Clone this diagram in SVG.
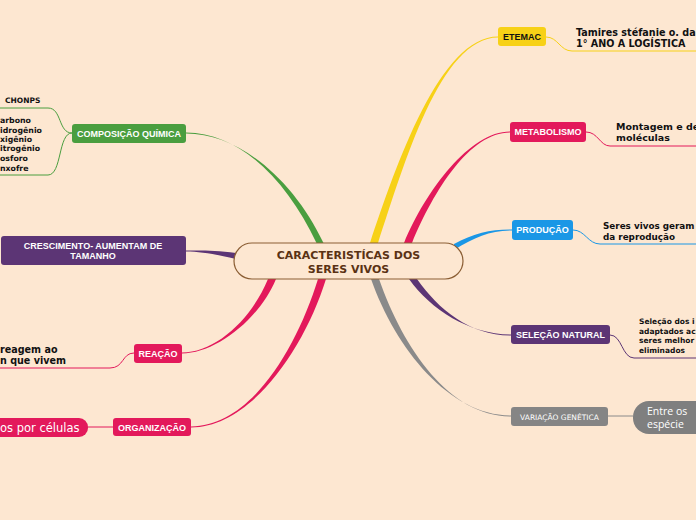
<svg xmlns="http://www.w3.org/2000/svg" width="696" height="520" viewBox="0 0 696 520">
<style>
.lbl{font-family:"Liberation Sans",Arial,sans-serif;font-weight:bold;font-size:9px;fill:#fff;text-anchor:middle}
.txt{font-family:"DejaVu Sans",Verdana,sans-serif;font-weight:bold;fill:#111}
.ul{fill:none;stroke-width:1}
</style>
<rect width="696" height="520" fill="#fde7d1"/>
<g id="connectors">
<path d="M316.5,243 C286.5,180 240,132.5 186,132.5 L186,133.5 C240,133.5 293.5,180 323.5,243 Z" fill="#4a9e3f"/>
<path d="M370,243 C396,165 440,36.5 498,36.5 L498,37.5 C440,37.5 404,165 378,243 Z" fill="#f7d117"/>
<path d="M404,243 C426,190 470,131.5 510,131.5 L510,132.5 C470,132.5 434,190 412,243 Z" fill="#e3195b"/>
<path d="M454,244 C475,233 490,229.5 512,229.5 L512,230.5 C490,230.5 475,237 454,250 Z" fill="#1a97e6"/>
<path d="M236,253 C215,250 200,250.5 186,250.5 L186,251.5 C200,251.5 215,254 236,259 Z" fill="#5c3575"/>
<path d="M268,279 C251,320 215,352.5 182,352.5 L182,353.5 C215,353.5 259,320 276,279 Z" fill="#e3195b"/>
<path d="M318,279 C296,350 250,426.5 191,426.5 L191,427.5 C250,427.5 304,350 326,279 Z" fill="#e3195b"/>
<path d="M409,279 C431,310 470,334.5 511,334.5 L511,335.5 C470,335.5 439,310 417,279 Z" fill="#5c3575"/>
<path d="M371,279 C396,350 450,415.5 511,415.5 L511,416.5 C450,416.5 404,350 379,279 Z" fill="#8a8a8a"/>
<path class="ul" stroke="#f7d117" d="M546,37 C558,37 560,51 572,51 L696,51"/>
<path class="ul" stroke="#e3195b" d="M586,132 C598,132 600,146 610,146 L696,146"/>
<path class="ul" stroke="#1a97e6" d="M573,230 C585,230 588,244 600,244 L696,244"/>
<path class="ul" stroke="#5c3575" d="M610,335 C622,335 622,358 634,358 L696,358"/>
<line x1="608" y1="416" x2="633" y2="416" stroke="#8a8a8a" stroke-width="1"/>
<path class="ul" stroke="#4a9e3f" d="M72,133 C58,133 62,108 48,108 L0,108"/>
<path class="ul" stroke="#4a9e3f" d="M72,133 C58,133 62,175 48,175 L0,175"/>
<path class="ul" stroke="#e3195b" d="M134,353 C122,353 124,368 110,368 L0,368"/>
<line x1="88" y1="427" x2="113" y2="427" stroke="#e3195b" stroke-width="1"/>
</g>
<g id="center">
<rect x="234" y="243" width="229" height="36" rx="18" fill="#fde7d1" stroke="#8b5e34" stroke-width="1.2"/>
<text x="348.5" y="259" font-family="'DejaVu Sans',Verdana,sans-serif" font-weight="bold" font-size="11" fill="#5a3214" text-anchor="middle">CARACTERISTÍCAS DOS</text>
<text x="348.5" y="272.5" font-family="'DejaVu Sans',Verdana,sans-serif" font-weight="bold" font-size="11" fill="#5a3214" text-anchor="middle">SERES VIVOS</text>
</g>
<g id="etemac">
<rect x="498" y="27" width="48" height="19" rx="3" fill="#f7d117"/>
<text class="lbl" x="522" y="40" style="fill:#111">ETEMAC</text>
</g>
<g id="tamires">
<text class="txt" x="576" y="36" font-size="9.6">Tamires stéfanie o. da</text>
<text class="txt" x="576" y="47" font-size="9.6">1° ANO A LOGÍSTICA</text>
</g>
<g id="metabolismo">
<rect x="510" y="122" width="76" height="20" rx="3" fill="#e3195b"/>
<text class="lbl" x="548" y="135">METABOLISMO</text>
</g>
<g id="montagem">
<text class="txt" x="616" y="130" font-size="9.5">Montagem e de</text>
<text class="txt" x="616" y="141" font-size="9.5">moléculas</text>
</g>
<g id="producao">
<rect x="512" y="220" width="61" height="20" rx="3" fill="#1a97e6"/>
<text class="lbl" x="542.5" y="233">PRODUÇÃO</text>
</g>
<g id="seres">
<text class="txt" x="603" y="229" font-size="8.8">Seres vivos geram</text>
<text class="txt" x="603" y="240" font-size="8.8">da reprodução</text>
</g>
<g id="selecao">
<rect x="511" y="325" width="99" height="19" rx="3" fill="#5c3575"/>
<text class="lbl" x="560.5" y="338">SELEÇÃO NATURAL</text>
</g>
<g id="selecao-txt">
<text class="txt" x="639" y="324" font-size="7.5">Seleção dos i</text>
<text class="txt" x="639" y="333.5" font-size="7.5">adaptados ac</text>
<text class="txt" x="639" y="343" font-size="7.5">seres melhor</text>
<text class="txt" x="639" y="352.5" font-size="7.5">eliminados</text>
</g>
<g id="variacao">
<rect x="511" y="407" width="97" height="19" rx="3" fill="#858585"/>
<text x="559.5" y="420" font-family="'DejaVu Sans',Verdana,sans-serif" font-size="7.5" fill="#fff" text-anchor="middle">VARIAÇÃO GENÉTICA</text>
</g>
<g id="entre">
<rect x="633" y="401" width="90" height="33" rx="16" fill="#7f7f7f"/>
<text x="647" y="414.5" font-family="'Open Sans','DejaVu Sans',sans-serif" font-size="10.5" fill="#fff">Entre os</text>
<text x="647" y="428" font-family="'Open Sans','DejaVu Sans',sans-serif" font-size="10.5" fill="#fff">espécie</text>
</g>
<g id="composicao">
<rect x="72" y="124" width="114" height="19" rx="3" fill="#4a9e3f"/>
<text class="lbl" x="129" y="137">COMPOSIÇÃO QUÍMICA</text>
</g>
<g id="chonps">
<text class="txt" x="5" y="103" font-size="7.5">CHONPS</text>
</g>
<g id="elementos">
<text class="txt" x="0" y="123" font-size="7.8">arbono</text>
<text class="txt" x="0" y="132.5" font-size="7.8">idrogênio</text>
<text class="txt" x="0" y="142" font-size="7.8">xigênio</text>
<text class="txt" x="0" y="151" font-size="7.8">itrogênio</text>
<text class="txt" x="0" y="161" font-size="7.8">osforo</text>
<text class="txt" x="0" y="170.5" font-size="7.8">nxofre</text>
</g>
<g id="crescimento">
<rect x="1" y="236" width="185" height="29" rx="3" fill="#5c3575"/>
<text class="lbl" x="93" y="248.5">CRESCIMENTO- AUMENTAM DE</text>
<text class="lbl" x="93" y="259">TAMANHO</text>
</g>
<g id="reacao">
<rect x="134" y="344" width="48" height="19" rx="3" fill="#e3195b"/>
<text class="lbl" x="158" y="357">REAÇÃO</text>
</g>
<g id="reagem">
<text class="txt" x="0" y="353" font-size="9.6">reagem ao</text>
<text class="txt" x="0" y="364" font-size="9.6">n que vivem</text>
</g>
<g id="organizacao">
<rect x="113" y="418" width="78" height="18" rx="3" fill="#e3195b"/>
<text class="lbl" x="152" y="430.5">ORGANIZAÇÃO</text>
</g>
<g id="celulas">
<rect x="-20" y="418" width="108" height="19" rx="9" fill="#e3195b"/>
<text x="0" y="432" font-family="'DejaVu Sans',Verdana,sans-serif" font-size="11.5" fill="#fff">os por células</text>
</g>
</svg>
